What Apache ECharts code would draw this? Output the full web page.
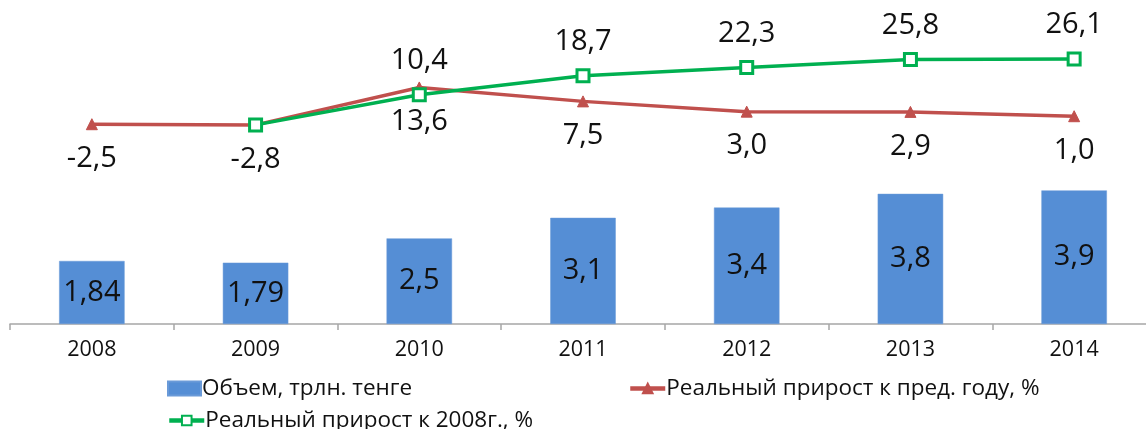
<!DOCTYPE html>
<html>
<head>
<meta charset="utf-8">
<script src="https://cdn.jsdelivr.net/npm/echarts@6/dist/echarts.min.js"></script>
<style>
html,body{margin:0;padding:0;background:#fff;overflow:hidden;width:1146px;height:429px;}
#chart{width:1156px;height:429px;}
</style>
</head>
<body>
<div id="chart"></div>
<script>
const categories = ['2008', '2009', '2010', '2011', '2012', '2013', '2014'];
const volume = [1.84, 1.79, 2.5, 3.1, 3.4, 3.8, 3.9];
const growthPrevYear = [-2.5, -2.8, 13.6, 7.5, 3.0, 2.9, 1.0];
const growth2008 = [null, -2.8, 10.4, 18.7, 22.3, 25.8, 26.1];
const seriesNames = ['Объем, трлн. тенге', 'Реальный прирост к пред. году, %', 'Реальный прирост к 2008г., %'];

const FONT = '"Open Sans", "Noto Sans", sans-serif';
const fmt = (v, d) => v.toFixed(d).replace('.', ',');
const legendText = { fontSize: 22.5, color: '#111', fontFamily: FONT, padding: [0, 0, 0, -4] };

const chart = echarts.init(document.getElementById('chart'));
chart.setOption({
  animation: false,
  backgroundColor: '#ffffff',
  textStyle: { fontFamily: FONT },
  grid: { left: 10, right: 0, top: 50, bottom: 105, containLabel: false },
  legend: [
    { data: [{ name: seriesNames[0], icon: 'rect' }], left: 162, top: 372, itemWidth: 33, itemHeight: 14,
      textStyle: legendText },
    { data: [seriesNames[1]], left: 623, top: 372, itemWidth: 35, itemHeight: 12,
      lineStyle: { width: 4.5 }, textStyle: legendText },
    { data: [seriesNames[2]], left: 162, top: 404, itemWidth: 35, itemHeight: 12,
      lineStyle: { width: 4.5 }, textStyle: legendText }
  ],
  xAxis: {
    type: 'category',
    data: categories,
    boundaryGap: true,
    axisLine: { lineStyle: { color: '#a6a6a6', width: 1.5 } },
    axisTick: { show: true, length: 6, lineStyle: { color: '#a6a6a6', width: 1.5 } },
    axisLabel: { fontSize: 21.5, color: '#111', margin: 15, fontFamily: FONT }
  },
  yAxis: [
    { type: 'value', min: 0, max: 8, show: false, splitLine: { show: false } },
    { type: 'value', min: -90, max: 30, show: false, splitLine: { show: false } }
  ],
  series: [
    {
      name: seriesNames[0],
      type: 'bar',
      yAxisIndex: 0,
      data: volume,
      barWidth: '40%',
      itemStyle: { color: '#558ED5', borderColor: '#6a9ad8', borderWidth: 0.5 },
      label: { show: true, position: 'inside', fontSize: 29, color: '#111',
        fontFamily: FONT, formatter: p => fmt(p.value, p.value === 1.84 || p.value === 1.79 ? 2 : 1) },
      z: 1
    },
    {
      name: seriesNames[1],
      type: 'line',
      yAxisIndex: 1,
      data: growthPrevYear,
      symbol: 'triangle',
      symbolSize: 11,
      lineStyle: { color: '#C0504D', width: 3.5 },
      itemStyle: { color: '#C0504D', borderColor: '#C0504D', borderWidth: 1 },
      label: { show: true, position: 'bottom', distance: 14, fontSize: 29, color: '#111',
        fontFamily: FONT, formatter: p => fmt(p.value, 1) },
      z: 3
    },
    {
      name: seriesNames[2],
      type: 'line',
      yAxisIndex: 1,
      data: growth2008,
      symbol: 'rect',
      symbolSize: 12,
      connectNulls: false,
      lineStyle: { color: '#00B050', width: 3.5 },
      itemStyle: { color: '#ffffff', borderColor: '#00B050', borderWidth: 3 },
      label: { show: true, position: 'top', distance: 12, fontSize: 29, color: '#111',
        fontFamily: FONT, formatter: p => (p.value == null || p.dataIndex === 1) ? '' : fmt(p.value, 1) },
      z: 4
    }
  ]
});
</script>
</body>
</html>
